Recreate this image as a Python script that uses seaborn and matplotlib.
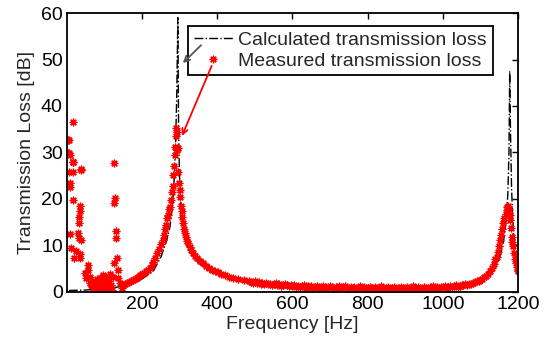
import numpy as np
import pandas as pd
import matplotlib
matplotlib.use('Agg')
import matplotlib.pyplot as plt
import seaborn as sns

# calculated transmission loss (dash-dot line)
calc_freq = [5, 50, 100, 150, 200, 230, 250, 265, 274, 280, 285, 289, 292, 295,
             297, 299, 302, 306, 312, 320, 335, 360, 400, 450, 500, 600,
             700, 800, 900, 1000, 1050, 1100, 1130, 1150, 1160, 1168, 1173,
             1176, 1178, 1180, 1183, 1187, 1192, 1200]
calc_tl = [0.3, 0.4, 0.7, 1.2, 2.8, 4.5, 7.5, 11.0, 14.0, 18.0, 24.0, 32.0, 42.0, 59.0,
           35.0, 26.0, 20.0, 16.0, 12.5, 10.0, 7.5, 5.5, 3.8, 2.6, 1.8, 1.2,
           0.9, 0.8, 0.8, 1.0, 1.4, 2.4, 4.0, 7.0, 10.0, 15.0, 21.0,
           30.0, 47.5, 35.0, 22.0, 14.0, 9.0, 5.5]

# measured transmission loss (asterisks)
# low-frequency scattered points
meas_low_freq = [5, 6, 8, 15, 15, 17, 5, 17, 37, 8, 9, 17, 35, 35, 32, 32, 9, 29, 31,
                 38, 12, 23, 34, 20, 35, 55, 57, 47, 50, 62, 60, 70, 76, 73, 95, 102,
                 100, 108, 90, 122, 126, 128, 126, 130, 130, 134, 126, 135, 137, 140,
                 147, 65, 80, 85, 88, 92, 97, 104, 110, 113, 117, 120, 115, 83, 68, 78,
                 4, 16, 36, 4]
meas_low_tl = [32.7, 29.9, 29.5, 36.6, 28.0, 28.0, 25.9, 25.7, 26.5, 23.4, 22.6, 19.8,
               18.5, 17.3, 16.2, 14.8, 12.5, 12.7, 11.6, 11.2, 9.5, 8.7, 8.2, 7.3, 7.4,
               5.8, 4.7, 4.0, 3.0, 3.3, 1.9, 2.2, 1.1, 0.4, 3.7, 2.6, 1.1, 1.9, 0.1,
               3.3, 27.8, 20.2, 19.1, 13.0, 11.6, 7.3, 6.2, 4.7, 3.0, 1.9, 0.9, 1.5,
               2.8, 0.8, 3.0, 1.6, 0.5, 3.1, 0.7, 2.4, 1.4, 0.3, 3.8, 1.9, 0.8, 0.2,
               32.7, 28.0, 26.2, 29.9]

# first resonance around 300 Hz
meas_peak1_freq = [150, 155, 160, 165, 170, 175, 180, 185, 190, 195, 200, 205, 210,
                   215, 220, 225, 230, 235, 240, 245, 250, 255, 258, 261, 263, 265,
                   268, 271, 274, 276, 279, 281, 283, 285, 287, 288, 289, 290, 292,
                   293, 295, 296, 298, 300, 302, 304, 305, 307, 310, 312, 314, 317,
                   320, 323, 327, 331, 336, 341, 347, 355, 363, 370, 378, 386, 394,
                   402, 410, 420, 430, 443, 455, 470, 485]
meas_peak1_tl = [1.5, 1.8, 2.0, 2.1, 2.4, 2.6, 2.8, 3.0, 3.3, 3.6, 3.8, 4.1, 4.4,
                 4.8, 5.2, 5.8, 6.5, 7.3, 8.4, 9.2, 10.3, 11.2, 12.3, 13.5, 14.5, 15.8,
                 16.6, 17.8, 18.3, 19.8, 21.4, 22.7, 25.2, 27.0, 29.5, 31.2, 35.3, 33.6,
                 30.5, 34.5, 31.0, 25.9, 23.4, 22.0, 20.5, 18.5, 17.3, 16.2, 14.8,
                 13.6, 12.7, 11.8, 11.0, 10.5, 9.6, 9.0, 8.4, 7.8, 7.2, 6.6, 6.2, 5.6,
                 5.2, 4.8, 4.5, 4.2, 3.9, 3.6, 3.3, 3.0, 2.8, 2.5, 2.3]

# flat region 490-1100 Hz, every 5 Hz
meas_mid_freq = list(range(490, 1101, 5))
meas_mid_tl = [2.2, 2.0, 2.3, 1.9, 2.1, 1.8, 2.0, 1.7, 1.9, 1.6, 1.8, 1.5, 1.7, 1.9,
               1.4, 1.6, 1.3, 1.5, 1.7, 1.4, 1.2, 1.5, 1.3,
               1.4, 1.1, 1.3, 1.0, 1.2, 1.4, 0.9, 1.2, 1.0, 1.3, 0.8, 1.1, 1.2, 0.9,
               1.0, 1.3, 0.8, 1.1, 0.9, 1.2, 1.0, 0.7, 1.1, 0.9, 1.2, 0.8, 1.0, 1.3,
               0.7, 0.9, 1.1, 0.8, 1.0, 0.6, 0.9, 1.2, 0.8, 1.0, 0.7, 0.9,
               1.1, 0.8, 0.6, 1.0, 0.9, 0.7, 1.2, 0.8, 0.6, 0.9, 1.1, 0.7, 0.8, 1.0,
               0.6, 0.9, 0.7, 1.1, 0.8, 0.6, 1.0, 0.9, 0.7, 1.2, 0.8, 0.7, 1.0, 0.6,
               0.9, 1.1, 0.8, 0.7, 1.0, 0.9, 1.2, 0.8, 1.0, 0.9, 1.1, 1.0,
               1.2, 0.9, 1.1, 1.3, 1.0, 1.2, 1.4, 1.1, 1.3, 1.5, 1.4, 1.6, 1.5, 1.8,
               1.7, 2.0, 2.1, 2.3, 2.4, 2.6]

# second resonance around 1180 Hz
meas_peak2_freq = [1105, 1110, 1115, 1120, 1125, 1130, 1135, 1140, 1143, 1146, 1149,
                   1152, 1155, 1158, 1161, 1164, 1167, 1170, 1172, 1174, 1176, 1178,
                   1179, 1181, 1183, 1185, 1187, 1190, 1193, 1195, 1197, 1199, 1200]
meas_peak2_tl = [2.8, 3.1, 3.4, 3.9, 4.5, 5.2, 6.0, 7.0, 7.6, 8.6, 9.8,
                 11.2, 12.3, 13.6, 14.8, 15.8, 16.8, 17.6, 18.2, 18.5, 17.8, 16.5,
                 15.5, 13.8, 11.9, 10.8, 9.8, 8.4, 7.0, 6.2, 5.4, 4.8, 4.5]

calc = pd.DataFrame({'Frequency': calc_freq, 'TL': calc_tl})
meas = pd.DataFrame({
    'Frequency': meas_low_freq + meas_peak1_freq + meas_mid_freq + meas_peak2_freq,
    'TL': meas_low_tl + meas_peak1_tl + meas_mid_tl + meas_peak2_tl,
})

sns.set_style('white')
plt.rcParams['font.family'] = ['Liberation Sans', 'DejaVu Sans']
plt.rcParams['xtick.direction'] = 'in'
plt.rcParams['ytick.direction'] = 'in'

fig = plt.figure(figsize=(5.49, 3.43), dpi=100)
ax = fig.add_axes([0.122, 0.149, 0.8215, 0.813])

sns.lineplot(data=calc, x='Frequency', y='TL', ax=ax, color='black',
             linestyle='-.', linewidth=1, estimator=None, sort=False,
             label='Calculated transmission loss')
sns.lineplot(data=meas, x='Frequency', y='TL', ax=ax, color='red',
             linestyle='', marker=(8, 2, 0), markersize=5.5, markeredgewidth=0.9,
             markeredgecolor='red', estimator=None, sort=False,
             label='Measured transmission loss')

ax.set_xlim(0, 1200)
ax.set_ylim(0, 60)
ax.set_xticks([200, 400, 600, 800, 1000, 1200])
ax.set_yticks([0, 10, 20, 30, 40, 50, 60])
ax.tick_params(axis='both', labelsize=14, length=4, width=1, colors='black',
               top=True, right=True, pad=3)
for sp in ax.spines.values():
    sp.set_color('black')
    sp.set_linewidth(1.3)
ax.set_xlabel('Frequency [Hz]', fontsize=14, labelpad=2)
ax.set_ylabel('Transmission Loss [dB]', fontsize=14, labelpad=4)

leg = ax.legend(loc='upper left', bbox_to_anchor=(0.268, 0.955), fontsize=14,
                frameon=True, fancybox=False, framealpha=1, edgecolor='black',
                handlelength=2.0, handletextpad=0.3, labelspacing=0.15,
                borderpad=0.3, borderaxespad=0)
leg.get_frame().set_linewidth(1.3)

ax.annotate('', xy=(303, 48.8), xytext=(362, 53.5), zorder=6,
            arrowprops=dict(arrowstyle='->', color='#555555', lw=1.3))
ax.annotate('', xy=(303, 33.0), xytext=(388, 49.2), zorder=6,
            arrowprops=dict(arrowstyle='->', color='red', lw=1.3))

plt.savefig('out.png', dpi=100)
